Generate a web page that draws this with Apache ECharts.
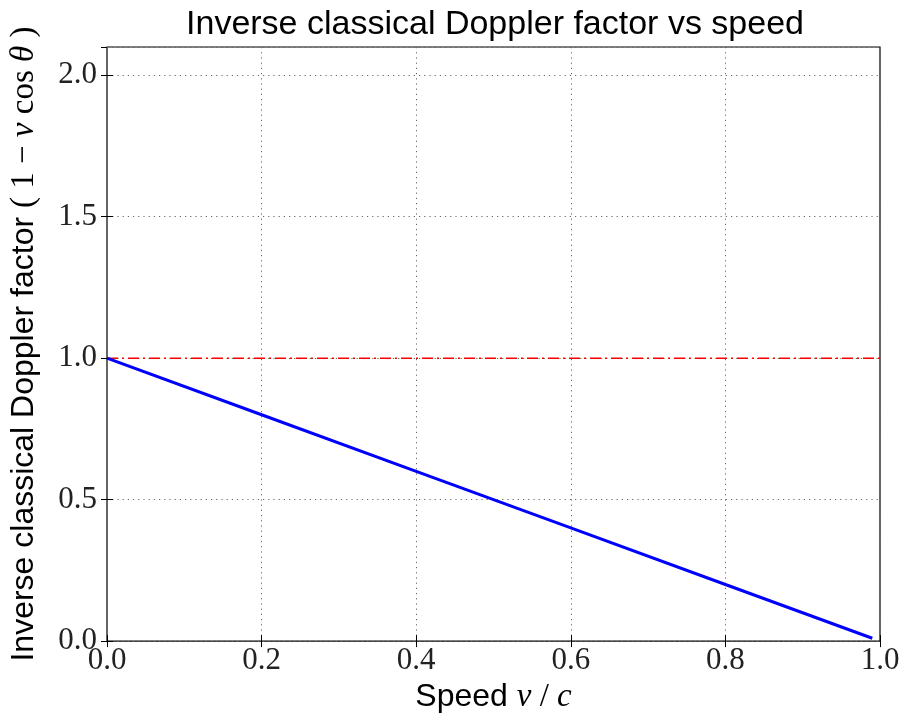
<!DOCTYPE html>
<html>
<head>
<meta charset="utf-8">
<script src="https://cdn.jsdelivr.net/npm/echarts@6/dist/echarts.min.js"></script>
<style>
  html, body { margin: 0; padding: 0; background: #fff; }
  #chart { width: 903px; height: 719px; }
</style>
</head>
<body>
<div id="chart"></div>
<script>
// speed v/c and the inverse Doppler factor
const speed = [0.0, 0.2, 0.4, 0.6, 0.8, 0.99];
const factor = [1.0, 0.8, 0.6, 0.4, 0.2, 0.01];
const refX = [0.0, 1.0];
const refY = [1.0, 1.0];

const chart = echarts.init(document.getElementById('chart'));

const serif = '"Liberation Serif", "DejaVu Serif", serif';
const sans = '"Liberation Sans", Arial, sans-serif';

const tickStyle = { inside: true, length: 6, lineStyle: { color: '#000', width: 1 } };
const gridLine = { show: true, lineStyle: { color: '#666', type: [1.2, 4], width: 1 } };

const labelRich = {
  s: { fontFamily: sans, fontSize: 32, color: '#000' },
  i: { fontFamily: serif, fontStyle: 'italic', fontSize: 33, color: '#000' },
  m: { fontFamily: serif, fontSize: 33, color: '#000' },
};

const options = {
  animation: false,
  title: {
    text: 'Inverse classical Doppler factor vs speed',
    left: 490,
    textAlign: 'center',
    top: 3,
    textStyle: { fontFamily: sans, fontWeight: 'normal', fontSize: 34, color: '#000' },
  },
  grid: {
    left: 106, right: 23, top: 47, bottom: 74,
    show: true, borderColor: '#000', borderWidth: 1.2, backgroundColor: '#fff',
  },
  xAxis: [
    {
      type: 'value', min: 0, max: 1, interval: 0.2,
      axisLine: { show: false },
      axisTick: tickStyle,
      splitLine: gridLine,
      axisLabel: {
        fontFamily: serif, fontSize: 31, color: '#222', margin: 4,
        formatter: v => v.toFixed(1),
      },
      name: '{s|Speed }{i|v}{m| / }{i|c}',
      nameLocation: 'middle',
      nameGap: 36,
      nameTextStyle: { rich: labelRich },
    },
    {
      type: 'value', min: 0, max: 1, interval: 0.2, position: 'top',
      axisLine: { show: false }, axisTick: tickStyle,
      axisLabel: { show: false }, splitLine: { show: false },
    },
  ],
  yAxis: [
    {
      type: 'value', min: 0, max: 2.1, interval: 0.5,
      axisLine: { show: false },
      axisTick: tickStyle,
      splitLine: gridLine,
      axisLabel: {
        fontFamily: serif, fontSize: 31, color: '#222', margin: 10,
        showMaxLabel: false,
        formatter: v => v.toFixed(1),
      },
      name: '{s|Inverse classical Doppler factor }{m|( 1 − }{i|v}{m| cos }{i|θ}{m| )}',
      nameLocation: 'middle',
      nameRotate: 90,
      nameGap: 66,
      nameTextStyle: { rich: labelRich },
    },
    {
      type: 'value', min: 0, max: 2.1, interval: 0.5, position: 'right',
      axisLine: { show: false }, axisTick: tickStyle,
      axisLabel: { show: false }, splitLine: { show: false },
    },
  ],
  series: [
    {
      type: 'line',
      data: refX.map((x, i) => [x, refY[i]]),
      showSymbol: false,
      lineStyle: { color: '#ff0000', width: 1.6, type: [11, 4, 2, 4] },
      z: 2,
    },
    {
      type: 'line',
      data: speed.map((x, i) => [x, factor[i]]),
      showSymbol: false,
      lineStyle: { color: '#0000ff', width: 3 },
      z: 3,
    },
  ],
};

chart.setOption(options);
</script>
</body>
</html>
